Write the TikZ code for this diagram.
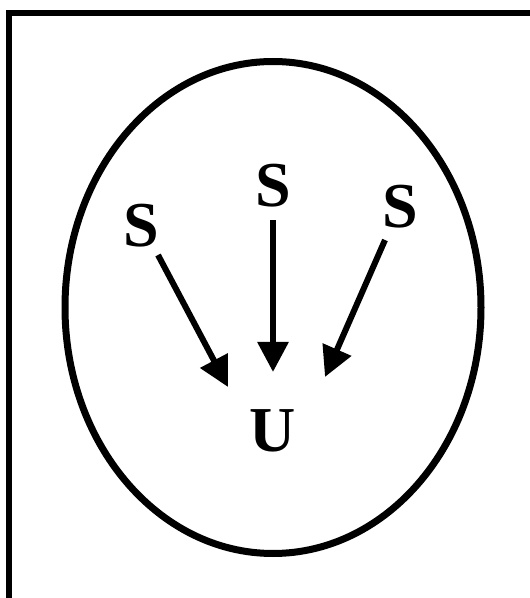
\documentclass[tikz,border=0pt]{standalone}
\usepackage{fontspec}
\setmainfont{Liberation Serif}
\usetikzlibrary{arrows.meta}
\begin{document}
\begin{tikzpicture}[x=1pt,y=1pt,
  lbl/.style={font=\fontsize{64}{64}\selectfont\bfseries, inner sep=0pt},
  arr/.style={line width=6pt, -{Triangle[length=30pt,width=30pt]}}]
\clip (0,0) rectangle (530,598);
\fill[white] (0,0) rectangle (530,598);
\draw[line width=6pt] (9,-20) rectangle (560,585);
\draw[line width=7pt] (273,290.5) ellipse [x radius=208, y radius=246];
\node[lbl] (s1) at (141,372) {S};
\node[lbl] (s2) at (273,412) {S};
\node[lbl] (s3) at (400,391) {S};
\node[lbl] (u) at (273,167) {U};
\coordinate (a1s) at (158,343);
\coordinate (a1e) at (228,211);
\coordinate (a2s) at (273,378);
\coordinate (a2e) at (273,226);
\coordinate (a3s) at (385,358);
\coordinate (a3e) at (325,221);
\draw[arr] (a1s) -- (a1e);
\draw[arr] (a2s) -- (a2e);
\draw[arr] (a3s) -- (a3e);
\end{tikzpicture}
\end{document}
